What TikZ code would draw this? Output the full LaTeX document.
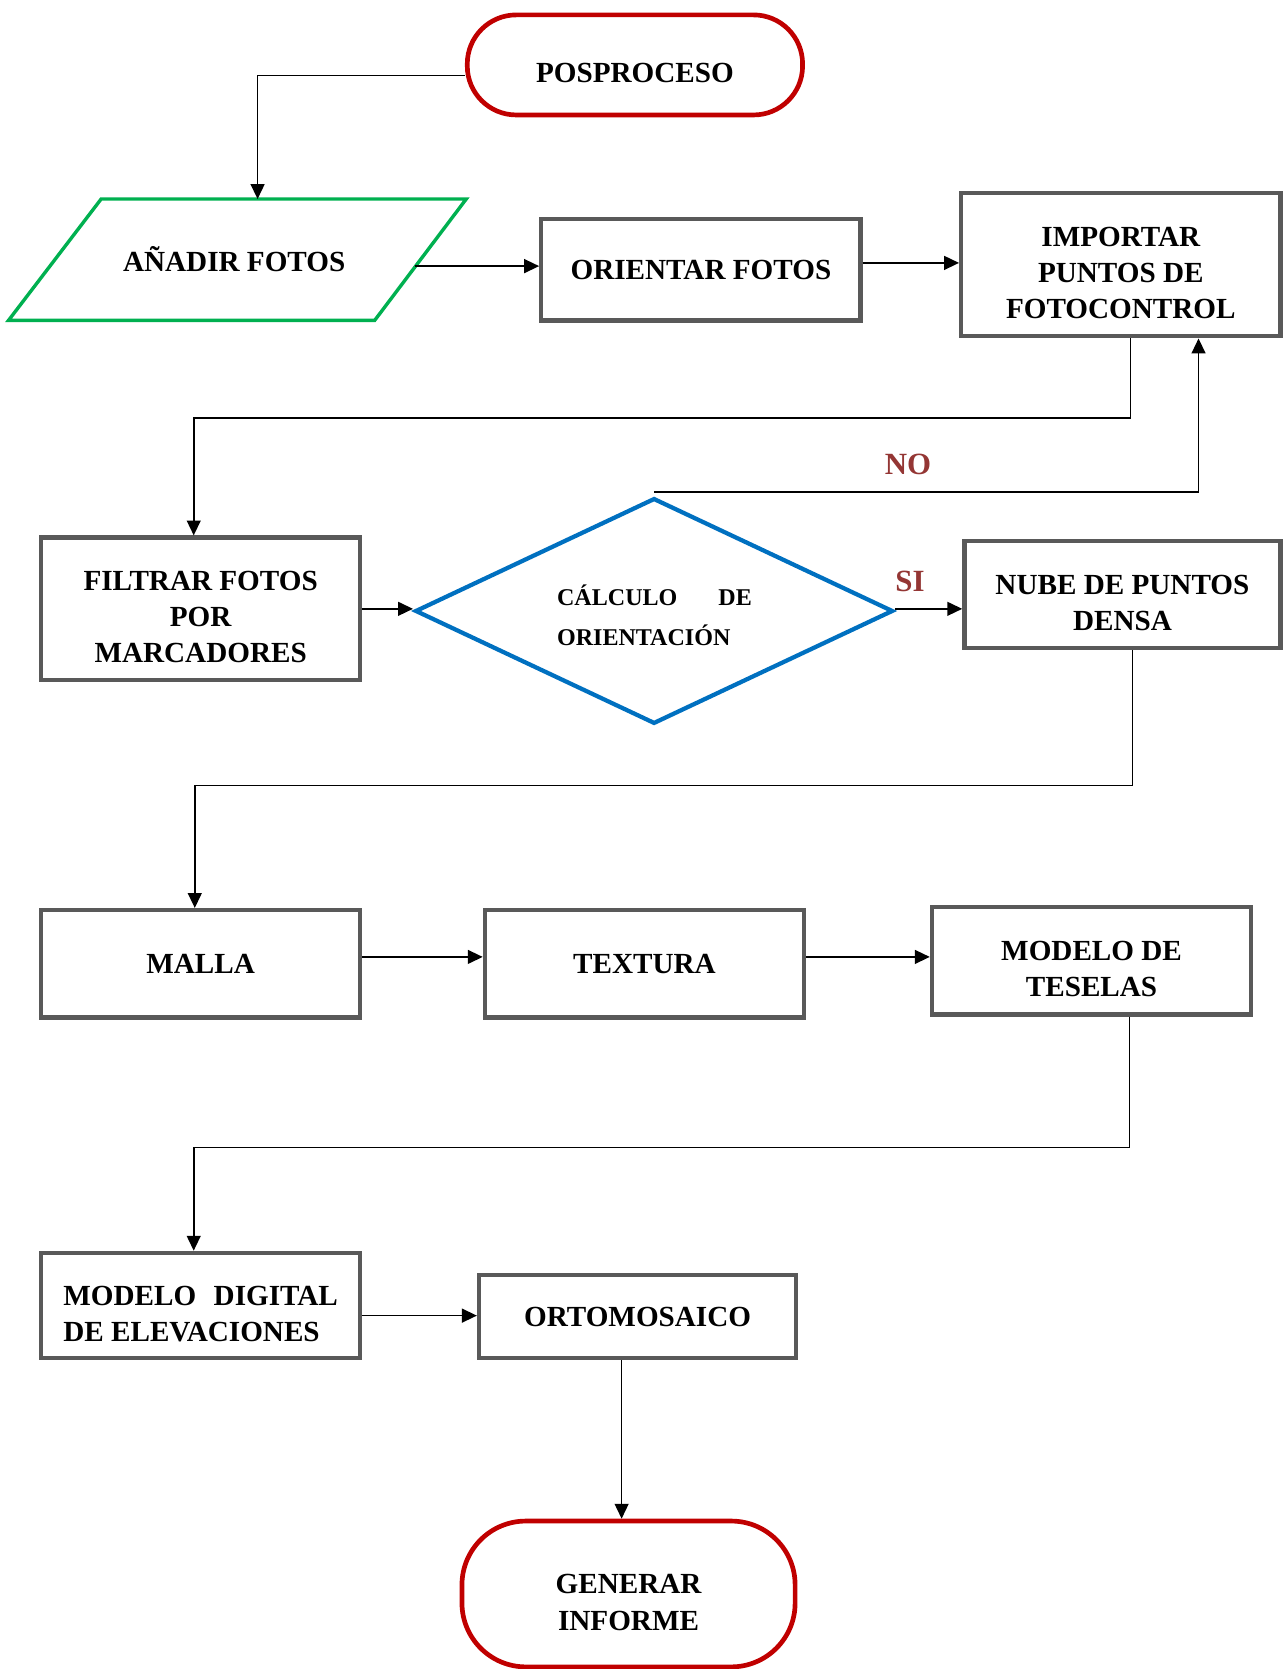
\documentclass[tikz,border=0pt]{standalone}
\usepackage{fontspec}
\setmainfont{Liberation Serif}
\usetikzlibrary{arrows.meta,shapes.geometric}
\definecolor{rojo}{HTML}{C00000}
\definecolor{verde}{HTML}{00B050}
\definecolor{azul}{HTML}{0070C0}
\definecolor{gris}{HTML}{595959}
\definecolor{rojoosc}{HTML}{943634}
\newcommand{\hueco}{\rule{0pt}{17pt}}
\tikzset{
  caja/.style={draw=gris, line width=2pt, minimum width=150pt, align=center, inner sep=2pt,
    font=\bfseries\fontsize{13.7}{17}\selectfont},
  term/.style={draw=rojo, line width=2.2pt, align=center, inner sep=2pt,
    font=\bfseries\fontsize{13.7}{17}\selectfont},
  texto/.style={font=\bfseries\fontsize{13.7}{17}\selectfont},
  etiq/.style={text=rojoosc, font=\bfseries\fontsize{14.5}{17}\selectfont},
  flecha/.style={-{Triangle[length=7pt,width=6.5pt]}, line width=0.8pt}
}
\begin{document}
\begin{tikzpicture}[x=0.5pt,y=-0.5pt]
\useasboundingbox (0,0) rectangle (1207,1568);
% Nodes
\node[term, rounded corners=23pt, minimum width=157.5pt, minimum height=47pt] (pos) at (596.5,61) {\hueco POSPROCESO};
\draw[verde, line width=1.6pt] (95,187) -- (438,187) -- (352,301) -- (8,301) -- cycle;
\node[texto] (ana) at (220,243) {AÑADIR FOTOS};
\coordinate (anaN) at (242,187);
\coordinate (anaE) at (390,250);
\node[caja, minimum height=47.5pt] (ori) at (658.5,253.5) {ORIENTAR FOTOS};
\node[caja, minimum height=67.5pt] (imp) at (1053,248.5) {\hueco IMPORTAR\\PUNTOS DE\\FOTOCONTROL};
\node[caja, minimum height=67pt] (fil) at (188.5,572) {\hueco FILTRAR FOTOS\\POR\\MARCADORES};
\node[draw=azul, line width=2pt, diamond, minimum width=224.5pt, minimum height=106pt, inner sep=0pt] (dia) at (614.5,574) {};
\node[anchor=west, align=left, inner sep=0pt, font=\bfseries\fontsize{11.3}{19}\selectfont] (diat) at (523,578) {\makebox[91.5pt][s]{CÁLCULO DE}\\ORIENTACIÓN};
\node[caja, minimum width=148.5pt, minimum height=50.5pt] (nub) at (1054.5,558.5) {\hueco NUBE DE PUNTOS\\DENSA};
\node[caja, minimum height=50.5pt] (mal) at (188.5,905.5) {MALLA};
\node[caja, minimum height=50.5pt] (tex) at (605.5,905.5) {TEXTURA};
\node[caja, minimum height=50.5pt] (tes) at (1025.5,902.5) {\hueco MODELO DE\\TESELAS};
\node[caja, minimum height=49.5pt, align=left] (mde) at (188.5,1226.5) {\hueco\makebox[129pt][s]{MODELO DIGITAL}\\DE ELEVACIONES};
\node[caja, minimum width=149pt, minimum height=39pt] (ort) at (599,1237) {ORTOMOSAICO};
\node[term, rounded corners=30pt, minimum width=156.5pt, minimum height=68.5pt] (gen) at (590.5,1497.5) {\hueco GENERAR\\INFORME};
\node[etiq] (no) at (853,436) {NO};
\node[etiq] (si) at (855,546) {SI};
\coordinate (k1) at (182,393);
\coordinate (k2) at (183,738);
\coordinate (k3) at (182,1078);
%Connections
\draw[flecha] ([yshift=-5pt]pos.west) -| (anaN);
\draw[flecha] (anaE) -- (anaE -| ori.west);
\draw[flecha] ([yshift=3.25pt]ori.east) -- ([yshift=0.75pt]imp.west);
\draw[flecha] ([xshift=4.5pt]imp.south) |- (k1) -- (k1 |- fil.north);
\draw[flecha] (fil.east) -- (fil.east -| dia.west);
\draw[flecha] ([yshift=2pt]dia.north) -| ([xshift=36.5pt]imp.south);
\draw[flecha] ([yshift=1pt]dia.east) -- ([yshift=1pt]dia.east -| nub.west);
\draw[flecha] ([xshift=4.75pt]nub.south) |- (k2) -- (k2 |- mal.north);
\draw[flecha] ([yshift=3.25pt]mal.east) -- ([yshift=3.25pt]tex.west);
\draw[flecha] ([yshift=3.25pt]tex.east) -- ([yshift=1.75pt]tes.west);
\draw[flecha] ([xshift=17.75pt]tes.south) |- (k3) -- (k3 |- mde.north);
\draw[flecha] ([yshift=-4.75pt]mde.east) -- ([yshift=0.5pt]ort.west);
\draw[flecha] ([xshift=-7.5pt]ort.south) -- ([xshift=-3.25pt]gen.north);
\end{tikzpicture}
\end{document}
